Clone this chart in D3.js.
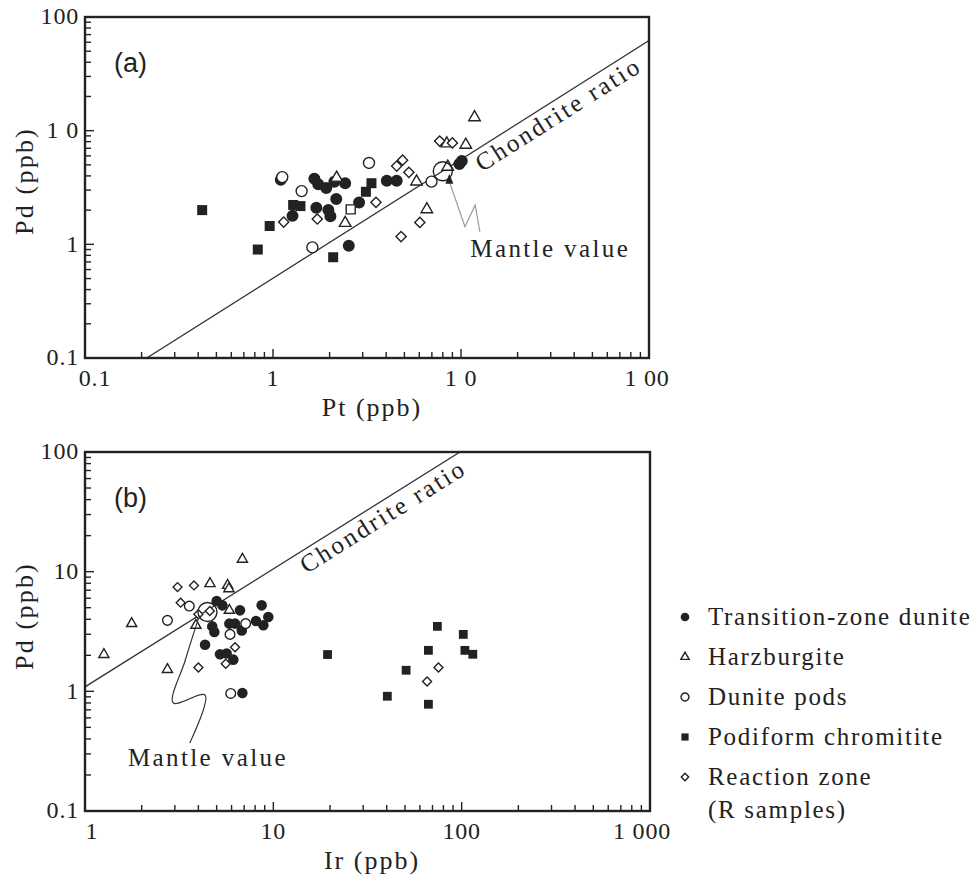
<!DOCTYPE html>
<html>
<head>
<meta charset="utf-8">
<script src="https://cdn.jsdelivr.net/npm/d3@7"></script>
<style>
  body { margin: 0; background: #fff; }
  svg text { font-family: "Liberation Serif", "Times New Roman", serif; fill: #222; }
</style>
</head>
<body>
<svg id="chart" width="975" height="876"></svg>
<script>
// ---------- Panel (a): Pt (ppb) vs Pd (ppb) ----------
const ptPdTransition = [[1.10,3.7],[1.27,1.78],[1.66,3.77],[1.74,3.37],[1.92,3.13],[2.12,3.56],[2.42,3.45],
  [1.70,2.1],[1.97,2.0],[2.02,1.77],[2.17,2.5],[2.53,0.97],[2.87,2.33],[4.03,3.63],[4.55,3.63],[9.8,5.1],[10.1,5.4]];
const ptPdHarzburgite = [[2.18,3.85],[2.42,1.54],[5.8,3.56],[6.58,2.03],[8.5,4.8],[8.4,7.7],[10.6,7.5],[11.8,13.1]];
const ptPdDunitePods = [[1.12,3.9],[1.42,2.94],[1.62,0.94],[3.24,5.2],[6.97,3.56]];
const ptPdChromitite = [[0.42,2.0],[0.83,0.9],[0.96,1.45],[1.28,2.22],[1.40,2.17],[2.09,0.77],[3.12,2.9],[3.34,3.45]];
const ptPdReaction = [[1.14,1.57],[1.72,1.67],[3.53,2.34],[4.55,4.88],[4.89,5.5],[5.28,4.3],[6.04,1.56],[4.8,1.17],[7.7,8.1],[9.0,7.8]];
const ptPdOpenSquare = [[2.59,2.03]];
const ptPdMantle = [8.0, 4.4];
const ptPdChondrite = [[0.213,0.1],[100,62]];
const ptPdArrow = [[12.6,1.29],[11.9,2.22],[10.5,1.43],[8.67,3.56]];
const ptTicks = ["0.1","1","1 0","1 00"];

// ---------- Panel (b): Ir (ppb) vs Pd (ppb) ----------
const irPdTransition = [[5.0,5.68],[5.36,5.23],[4.74,3.49],[4.86,3.13],[4.34,2.45],[5.21,2.04],[5.65,2.07],[6.13,1.84],
  [5.84,3.68],[6.26,3.68],[6.65,4.75],[6.8,3.23],[8.67,5.23],[8.09,3.87],[8.85,3.56],[9.4,4.18],[6.85,0.97]];
const irPdHarzburgite = [[1.26,2.03],[1.77,3.68],[2.74,1.52],[4.61,7.94],[5.72,7.68],[5.81,7.2],[6.85,12.7],[3.88,3.56],[5.84,4.75]];
const irPdDunitePods = [[2.74,3.92],[3.58,5.16],[5.89,2.99],[7.13,3.68],[5.94,0.96]];
const irPdChromitite = [[19.4,2.03],[74.3,3.49],[102,2.99],[66.6,2.2],[104,2.2],[114.6,2.04],[50.7,1.5],[40.3,0.91],[66.6,0.78]];
const irPdReaction = [[3.1,7.43],[3.79,7.68],[3.22,5.51],[4.0,4.4],[4.0,1.58],[6.26,2.34],[5.59,1.7],[75.3,1.58],[65.5,1.21],[4.6,4.7]];
const irPdMantle = [4.47, 4.6];
const irPdChondrite = [[1,1.09],[98,100]];
const irPdCurve = [[4.0,4.05],[3.4,1.8],[2.94,0.80],[4.34,0.93],[3.6,0.37]];
const irTicks = ["1","10","100","1 000"];

const pdTicksA = ["0.1","1","1 0","100"];
const pdTicksB = ["0.1","1","10","100"];

const legendLabels = ["Transition-zone dunite","Harzburgite","Dunite pods","Podiform chromitite","Reaction zone"];
const legendTypes = ["dot","tri","ring","sq","dia"];

const svg = d3.select("#chart");
const ink = "#222";

// marker drawing
function marker(g, type, x, y, k) {
  const sym = {
    dot:  [d3.symbolCircle, 113, ink, "none", 0],
    ring: [d3.symbolCircle, 95, "#fff", ink, 1.4],
    sq:   [d3.symbolSquare, 100, ink, "none", 0],
    osq:  [d3.symbolSquare, 81, "#fff", ink, 1.4],
    tri:  [d3.symbolTriangle, 58, "#fff", ink, 1.4],
    dia:  [d3.symbolSquare, 52, "#fff", ink, 1.4]
  }[type];
  g.append("path")
    .attr("d", d3.symbol(sym[0], sym[1] * k * k)())
    .attr("transform", `translate(${x},${y})` + (type === "dia" ? " rotate(45)" : ""))
    .attr("fill", sym[2]).attr("stroke", sym[3]).attr("stroke-width", sym[4]);
}

function minorTicks(lo, hi) {
  const out = [];
  for (let d = lo; d < hi; d *= 10) for (let m = 1; m < 10; m++) out.push(d * m);
  out.push(hi);
  return out;
}

function panel(cfg) {
  const x = d3.scaleLog().domain(cfg.xDomain).range([cfg.left, cfg.right]);
  const y = d3.scaleLog().domain([0.1, 100]).range([cfg.bottom, cfg.top]);
  const g = svg.append("g");

  // clip region for the ratio line
  const clipId = "clip-" + cfg.id;
  svg.append("clipPath").attr("id", clipId).append("rect")
    .attr("x", cfg.left).attr("y", cfg.top).attr("width", cfg.right - cfg.left).attr("height", cfg.bottom - cfg.top);

  // chondrite ratio line
  g.append("path")
    .attr("d", d3.line().x(d => x(d[0])).y(d => y(d[1]))(cfg.chondrite))
    .attr("clip-path", `url(#${clipId})`)
    .attr("stroke", "#333").attr("stroke-width", 1.3).attr("fill", "none");

  // axes with inward ticks
  const xMajor = cfg.xDomain[0] === 0.1 ? [0.1, 1, 10, 100] : [1, 10, 100, 1000];
  const yMajor = [0.1, 1, 10, 100];
  const xAll = minorTicks(cfg.xDomain[0], cfg.xDomain[1]);
  const yAll = minorTicks(0.1, 100);
  const isMajor = (arr, d) => arr.some(v => Math.abs(v - d) < 1e-9);

  const ticksG = g.append("g").attr("stroke", ink).attr("stroke-width", 1.4);
  ticksG.selectAll(".xt").data(xAll).join("line")
    .attr("x1", d => x(d)).attr("x2", d => x(d))
    .attr("y1", cfg.bottom).attr("y2", d => cfg.bottom - (isMajor(xMajor, d) ? 9 : 6));
  ticksG.selectAll(".yt").data(yAll).join("line")
    .attr("y1", d => y(d)).attr("y2", d => y(d))
    .attr("x1", cfg.left).attr("x2", d => cfg.left + (isMajor(yMajor, d) ? 9 : 6));

  // frame
  g.append("rect").attr("x", cfg.left).attr("y", cfg.top)
    .attr("width", cfg.right - cfg.left).attr("height", cfg.bottom - cfg.top)
    .attr("fill", "none").attr("stroke", ink).attr("stroke-width", 2.4);

  // tick labels (end labels nudged inward, clear of the corner)
  g.selectAll(".xl").data(xMajor).join("text")
    .attr("x", d => x(d)).attr("y", cfg.bottom + 28)
    .attr("dx", (d, i) => i === 0 ? cfg.firstDx : (i === xMajor.length - 1 ? cfg.lastDx : 0))
    .attr("text-anchor", "middle").attr("font-size", 24).attr("letter-spacing", 0.8)
    .text((d, i) => cfg.xLabels[i]);
  g.selectAll(".yl").data(yMajor).join("text")
    .attr("x", cfg.left - 6).attr("y", d => y(d)).attr("dy", "0.3em")
    .attr("text-anchor", "end").attr("font-size", 24).attr("letter-spacing", 0.8)
    .text((d, i) => cfg.yLabels[i]);

  // axis titles
  g.append("text").attr("transform", `translate(24,${cfg.yTitleMid}) rotate(-90)`)
    .attr("text-anchor", "middle").attr("dy", "0.35em").attr("font-size", 26).attr("letter-spacing", 2.2)
    .text("Pd (ppb)");
  g.append("text").attr("x", 372).attr("y", cfg.titleY)
    .attr("text-anchor", "middle").attr("font-size", 26).attr("letter-spacing", 2)
    .text(cfg.xTitle);

  // panel tag
  g.append("text").attr("x", cfg.left + 29).attr("y", cfg.top + 55)
    .style("font-family", "'Liberation Sans', Arial, sans-serif").attr("font-size", 27)
    .text(cfg.tag);

  // chondrite label, set just under the ratio line
  const [p0, p1] = cfg.chondrite;
  const ang = Math.atan2(y(p1[1]) - y(p0[1]), x(p1[0]) - x(p0[0])) * 180 / Math.PI;
  const lx = cfg.labelAt;
  const ly = Math.exp(Math.log(p0[1]) + (Math.log(lx) - Math.log(p0[0])) *
             (Math.log(p1[1]) - Math.log(p0[1])) / (Math.log(p1[0]) - Math.log(p0[0])));
  g.append("text")
    .attr("transform", `translate(${x(lx)},${y(ly)}) rotate(${ang}) translate(0,22)`)
    .attr("font-size", 25).attr("letter-spacing", 2.6)
    .text("Chondrite ratio");

  // data markers
  const mk = g.append("g");
  cfg.series.forEach(([data, type]) => {
    data.forEach(d => marker(mk, type, x(d[0]), y(d[1]), cfg.k));
  });
  // mantle value
  mk.append("circle").attr("cx", x(cfg.mantle[0])).attr("cy", y(cfg.mantle[1])).attr("r", 9.5)
    .attr("fill", "none").attr("stroke", ink).attr("stroke-width", 1.4);

  return { x, y, g };
}

// ---------- Panel (a) ----------
const A = panel({
  id: "a", tag: "(a)", xDomain: [0.1, 100],
  left: 85, right: 649, top: 17, bottom: 358,
  xLabels: ptTicks, yLabels: pdTicksA, xTitle: "Pt (ppb)", titleY: 416, yTitleMid: 181,
  firstDx: 10, lastDx: -2,
  chondrite: ptPdChondrite, labelAt: 11.2, mantle: ptPdMantle, k: 1,
  series: [[ptPdChromitite, "sq"], [ptPdTransition, "dot"], [ptPdDunitePods, "ring"],
           [ptPdHarzburgite, "tri"], [ptPdReaction, "dia"], [ptPdOpenSquare, "osq"]]
});
// mantle value pointer (a)
A.g.append("path")
  .attr("d", d3.line().x(d => A.x(d[0])).y(d => A.y(d[1])).curve(d3.curveLinear)(ptPdArrow))
  .attr("fill", "none").attr("stroke", "#999").attr("stroke-width", 1.2);
{
  const tip = ptPdArrow[ptPdArrow.length - 1];
  const tx = A.x(tip[0]), ty = A.y(tip[1]);
  A.g.append("path").attr("d", `M${tx},${ty - 8} L${tx - 4},${ty + 2} L${tx + 4},${ty + 2} Z`).attr("fill", ink);
}
A.g.append("text").attr("x", A.x(11.2)).attr("y", A.y(0.77))
  .attr("font-size", 25).attr("letter-spacing", 2.4).text("Mantle value");

// ---------- Panel (b) ----------
const B = panel({
  id: "b", tag: "(b)", xDomain: [1, 1000],
  left: 85, right: 650, top: 452, bottom: 811,
  xLabels: irTicks, yLabels: pdTicksB, xTitle: "Ir (ppb)", titleY: 869, yTitleMid: 616,
  firstDx: 7, lastDx: -8,
  chondrite: irPdChondrite, labelAt: 13.0, mantle: irPdMantle, k: 0.88,
  series: [[irPdChromitite, "sq"], [irPdTransition, "dot"], [irPdDunitePods, "ring"],
           [irPdHarzburgite, "tri"], [irPdReaction, "dia"]]
});
B.g.append("path")
  .attr("d", d3.line().x(d => B.x(d[0])).y(d => B.y(d[1])).curve(d3.curveCatmullRom)(irPdCurve))
  .attr("fill", "none").attr("stroke", "#333").attr("stroke-width", 1.2);
B.g.append("text").attr("x", B.x(1.69)).attr("y", B.y(0.24))
  .attr("font-size", 25).attr("letter-spacing", 2.4).text("Mantle value");

// ---------- Legend ----------
const lg = svg.append("g");
legendLabels.forEach((t, i) => {
  const cy = 617 + i * 40;
  marker(lg, legendTypes[i], 685, cy, 0.72);
  lg.append("text").attr("x", 708).attr("y", cy).attr("dy", "0.33em")
    .attr("font-size", 25).attr("letter-spacing", 1.7).text(t);
});
lg.append("text").attr("x", 708).attr("y", 617 + 4 * 40 + 33).attr("dy", "0.33em")
  .attr("font-size", 25).attr("letter-spacing", 1.7).text("(R samples)");
</script>
</body>
</html>
